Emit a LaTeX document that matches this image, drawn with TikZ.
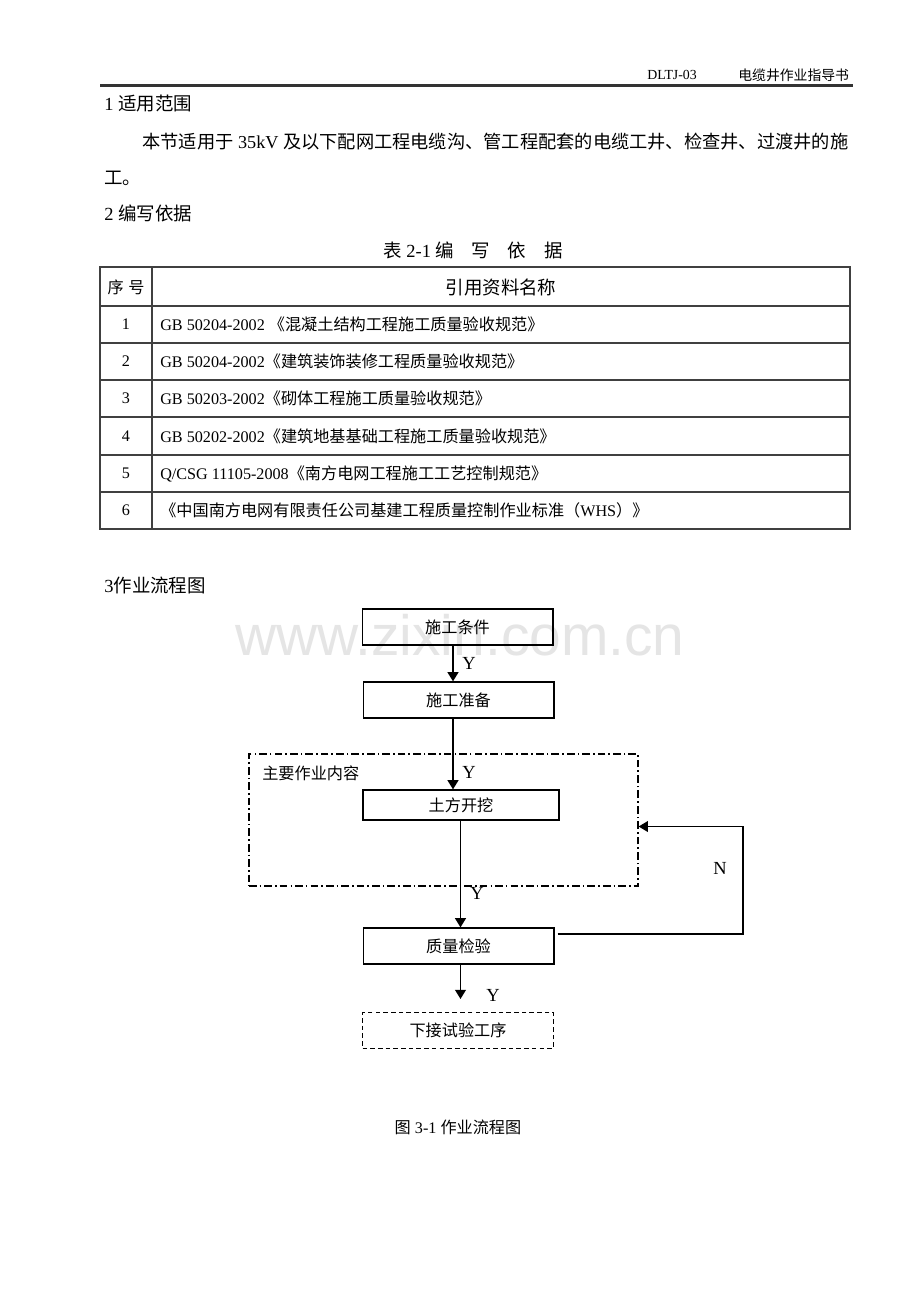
\documentclass[tikz,border=0pt]{standalone}
\usepackage{fontspec}
\setmainfont{Liberation Serif}
\newfontfamily\cjk{Noto Sans CJK SC}
\newfontfamily\wmfont{Liberation Sans}
\newcommand{\zhtxt}[1]{{\cjk #1}}
\usetikzlibrary{arrows.meta}

\begin{document}
\begin{tikzpicture}[x=0.65pt, y=-0.65pt,
	txt/.style={inner sep=0pt, anchor=west, font=\fontsize{12}{14}\selectfont},
	hdr/.style={inner sep=0pt, anchor=west, font=\fontsize{9}{11}\selectfont},
	tbl/.style={draw=black!75, line width=0.9pt},
	num/.style={inner sep=0pt, font=\fontsize{10.5}{12}\selectfont},
	cell/.style={inner sep=0pt, anchor=west, font=\fontsize{10.5}{12}\selectfont},
	box/.style={draw, line width=0.8pt, minimum width=124pt, minimum height=23.4pt,
		inner sep=0pt, font=\cjk\fontsize{10.5}{12}\selectfont},
	grpbox/.style={draw, line width=0.8pt, minimum width=252.9pt, minimum height=85.8pt,
		inner sep=0pt, dash pattern=on 5pt off 2pt on 1pt off 2pt},
	arr/.style={-{Triangle[length=6pt, width=7pt]}, line width=1.2pt},
	ylbl/.style={inner sep=0pt, font=\fontsize{12}{14}\selectfont}
]
	\fill[white] (0, 0) rectangle (920, 1302);
	\useasboundingbox (0, 0) rectangle (920, 1302);

	% header
	\node[hdr] (code) at (647, 75) {DLTJ-03};
	\node[hdr] (title) at (738, 75) {\zhtxt{电缆井作业指导书}};
	\draw[black!80, line width=1.5pt] (100, 85.5) -- (853, 85.5);

	% section 1
	\node[txt] (s1) at (104, 104) {1 \zhtxt{适用范围}};
	\node[txt, font=\fontsize{11.85}{14}\selectfont] (p1) at (142, 142) {\zhtxt{本节适用于} 35kV \zhtxt{及以下配网工程电缆沟、管工程配套的电缆工井、检查井、过渡井的施}};
	\node[txt] (p2) at (104, 178) {\zhtxt{工。}};

	% section 2, table
	\node[txt] (s2) at (104, 213) {2 \zhtxt{编写依据}};
	\node[txt] (tcap) at (383, 250) {\zhtxt{表} 2-1 \zhtxt{编\hspace{11.5pt}写\hspace{11.5pt}依\hspace{11.5pt}据}};

	\draw[tbl] (100, 267) rectangle (850, 529);
	\draw[tbl] (152, 267) -- (152, 529);
	\draw[tbl] (100, 306) -- (850, 306);
	\draw[tbl] (100, 343) -- (850, 343);
	\draw[tbl] (100, 380) -- (850, 380);
	\draw[tbl] (100, 417) -- (850, 417);
	\draw[tbl] (100, 455) -- (850, 455);
	\draw[tbl] (100, 492) -- (850, 492);

	\node[num] (h1) at (126, 287) {\zhtxt{序\hspace{3pt}号}};
	\node[inner sep=0pt, font=\cjk\fontsize{12}{14}\selectfont] (h2) at (501, 287) {引用资料名称};

	\node[num] (n1) at (126, 324.5) {1};
	\node[num] (n2) at (126, 361.5) {2};
	\node[num] (n3) at (126, 398.5) {3};
	\node[num] (n4) at (126, 436) {4};
	\node[num] (n5) at (126, 473.5) {5};
	\node[num] (n6) at (126, 510.5) {6};

	\node[cell] (r1) at (160, 324.5) {GB 50204-2002 \zhtxt{《混凝土结构工程施工质量验收规范》}};
	\node[cell] (r2) at (160, 361.5) {GB 50204-2002\zhtxt{《建筑装饰装修工程质量验收规范》}};
	\node[cell] (r3) at (160, 398.5) {GB 50203-2002\zhtxt{《砌体工程施工质量验收规范》}};
	\node[cell] (r4) at (160, 436) {GB 50202-2002\zhtxt{《建筑地基基础工程施工质量验收规范》}};
	\node[cell] (r5) at (160, 473.5) {Q/CSG 11105-2008\zhtxt{《南方电网工程施工工艺控制规范》}};
	\node[cell] (r6) at (160, 510.5) {\zhtxt{《中国南方电网有限责任公司基建工程质量控制作业标准（}WHS\zhtxt{）》}};

	% section 3, flow chart
	\node[txt] (s3) at (104, 585) {3\zhtxt{作业流程图}};

	% watermark
	\node[inner sep=0pt, text=gray!20, font=\wmfont\fontsize{37}{40}\selectfont] (wm) at (460, 635) {www.zixin.com.cn};

	\node[box] (cond) at (457.5, 627) {施工条件};
	\node[box] (prep) at (458.5, 700) {施工准备};
	\node[grpbox] (main) at (443.5, 820) {};
	\node[inner sep=0pt, anchor=west, font=\cjk\fontsize{10.5}{12}\selectfont] (mainlbl) at (262, 773) {主要作业内容};
	\node[box, minimum width=127.4pt, minimum height=19.5pt] (dig) at (461, 805) {土方开挖};
	\node[box] (chk) at (458.5, 946) {质量检验};
	\node[box, dash pattern=on 3pt off 2pt] (next) at (458, 1030.5) {下接试验工序};

	% arrow columns, loose ends
	\coordinate (ax1) at (453, 0);
	\coordinate (ax2) at (460.5, 0);
	\coordinate (nextin) at (460.5, 999);
	\coordinate (fbtop) at (743, 826.5);

	\draw[arr] (cond.south -| ax1) -- (prep.north -| ax1);
	\draw[arr] (prep.south -| ax1) -- (dig.north -| ax1);
	\draw[arr] (dig.south -| ax2) -- (chk.north -| ax2);
	\draw[arr] (chk.south -| ax2) -- (nextin);

	% back to the main block
	\draw[arr, line width=0.8pt] ([xshift=2pt, yshift=7.8pt]chk.east) -| (fbtop) -- (fbtop -| main.east);

	\node[ylbl] (y1) at (469, 663) {Y};
	\node[ylbl] (y2) at (469, 772) {Y};
	\node[ylbl] (y3) at (477, 893) {Y};
	\node[ylbl] (y4) at (493, 995) {Y};
	\node[ylbl] (nlbl) at (720, 868) {N};

	% caption
	\node[inner sep=0pt, font=\fontsize{10.5}{12}\selectfont] (fcap) at (458, 1127) {\zhtxt{图} 3-1 \zhtxt{作业流程图}};
\end{tikzpicture}
\end{document}
